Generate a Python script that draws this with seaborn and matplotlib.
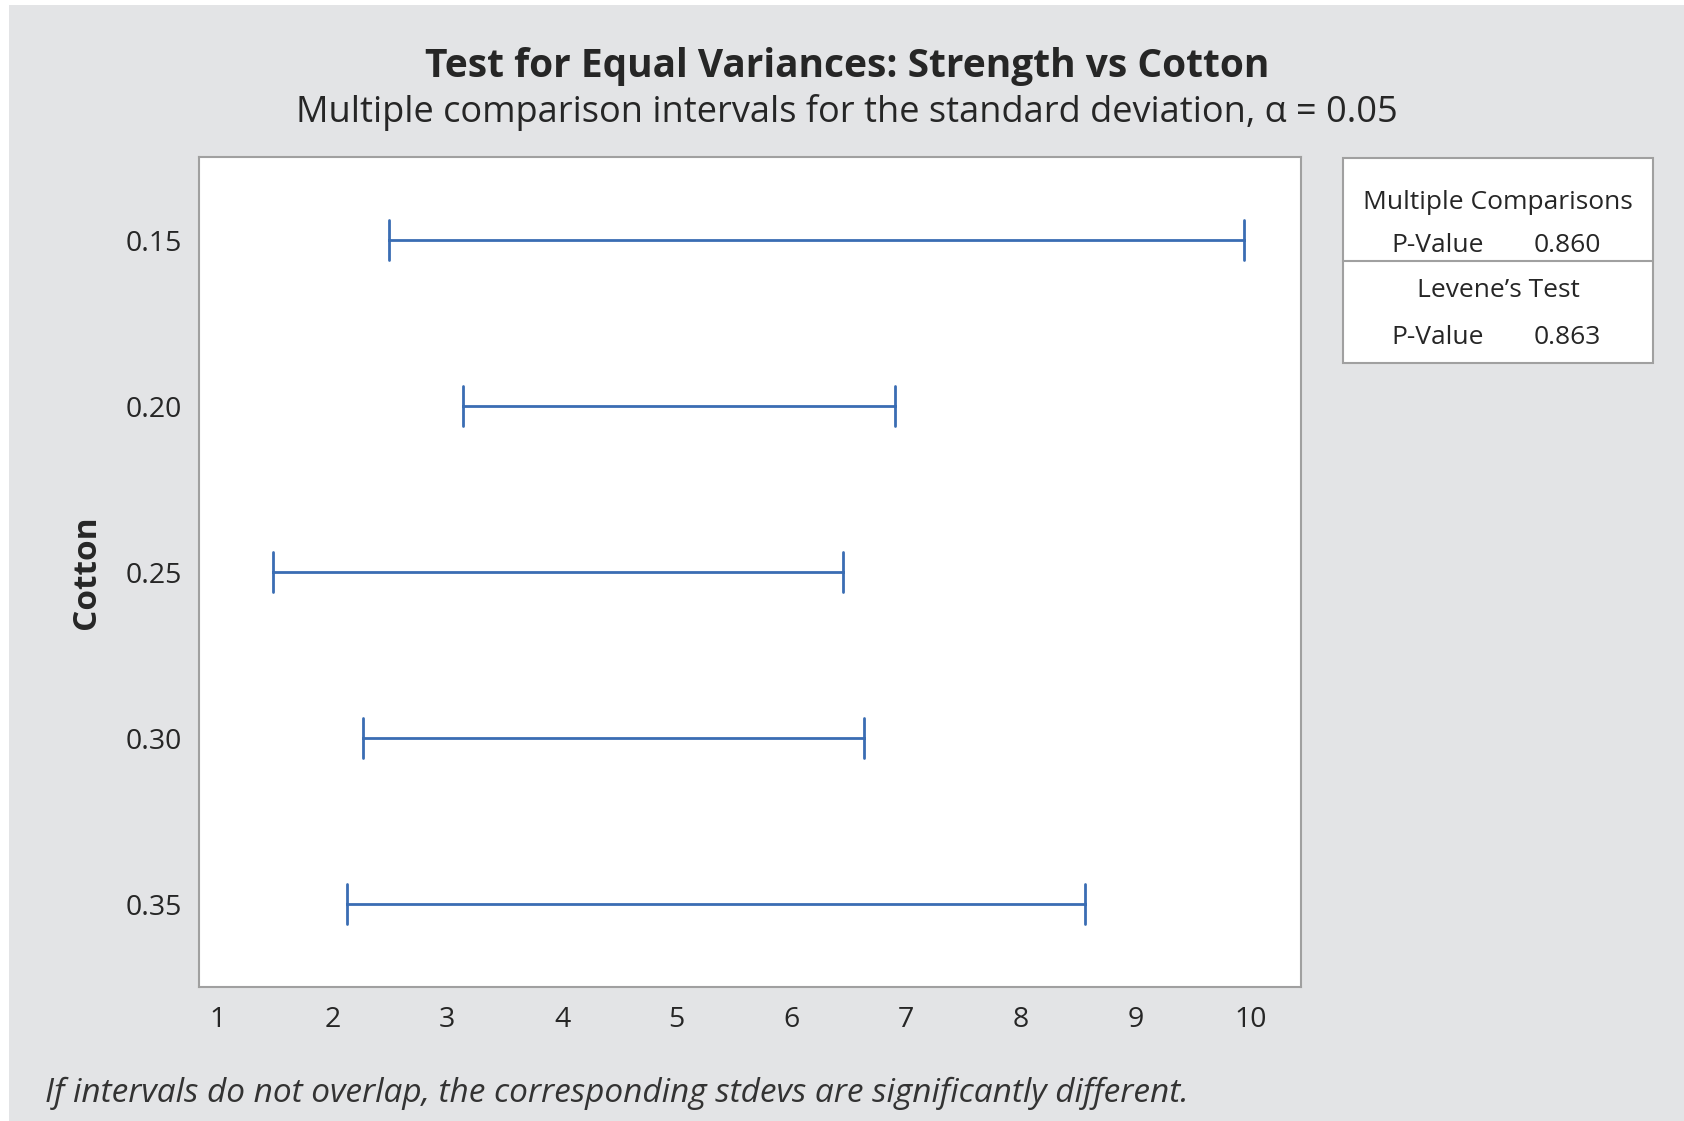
import numpy as np
import pandas as pd
import seaborn as sns
import matplotlib.pyplot as plt
from matplotlib.patches import Rectangle

# interval ends for the stdev of Strength, per Cotton level
cotton = ['0.15', '0.20', '0.25', '0.30', '0.35']
lower = [2.49, 3.14, 1.48, 2.27, 2.13]
upper = [9.94, 6.90, 6.45, 6.63, 8.56]
x_ticks = [1, 2, 3, 4, 5, 6, 7, 8, 9, 10]

mc_pvalue = '0.860'
levene_pvalue = '0.863'

# long table: two rows per level, errorbar spans min..max
df = pd.DataFrame({
    'Cotton': cotton + cotton,
    'StDev': lower + upper,
})

sns.set_style('white')
plt.rcParams['font.family'] = ['Open Sans', 'DejaVu Sans']

bg = '#e3e4e6'
blue = '#3a6db3'
grey = '#a0a0a0'
txt = '#262626'

fig = plt.figure(figsize=(16.84, 11.21), dpi=100, facecolor='white')
fig.add_artist(Rectangle((9 / 1684, 0), 1, 1 - 5 / 1121, transform=fig.transFigure,
                         facecolor=bg, edgecolor='none', zorder=-10))

ax = fig.add_axes([0.1182, 0.1195, 0.6544, 0.7404])
ax.set_facecolor('white')

sns.pointplot(data=df, x='StDev', y='Cotton', orient='h', order=cotton,
              estimator='mean', errorbar=lambda v: (v.min(), v.max()),
              capsize=0.24, color=blue, linestyle='none', markersize=0,
              err_kws={'linewidth': 2.0}, ax=ax)

ax.set_xlim(0.837, 10.44)
ax.set_xticks(x_ticks)
ax.set_xticklabels([str(t) for t in x_ticks])
ax.set_xlabel('')
ax.set_ylabel('Cotton', fontsize=24, fontweight='bold', color=txt)
ax.yaxis.set_label_coords(-0.087, 0.5)

for s in ax.spines.values():
    s.set_color(grey)
    s.set_linewidth(1.5)
ax.tick_params(axis='both', colors=grey, labelcolor=txt, labelsize=20.5,
               length=8, width=1.2, direction='out')
ax.tick_params(axis='x', pad=6)
ax.tick_params(axis='y', pad=4)

fig.text(0.503, 0.941, 'Test for Equal Variances: Strength vs Cotton',
         ha='center', va='center', fontsize=28, fontweight='bold', color=txt)
fig.text(0.503, 0.900, 'Multiple comparison intervals for the standard deviation, \u03b1 = 0.05',
         ha='center', va='center', fontsize=26, color=txt)
fig.text(45 / 1684, 1 - 1093 / 1121,
         'If intervals do not overlap, the corresponding stdevs are significantly different.',
         ha='left', va='center', fontsize=24, style='italic', color='#333333')

# p-value box on the right
bx0, bx1 = 1343 / 1684, 1653 / 1684
by_top, by_bot, by_mid = 1 - 158 / 1121, 1 - 363 / 1121, 1 - 261 / 1121
fig.add_artist(Rectangle((bx0, by_bot), bx1 - bx0, by_top - by_bot, transform=fig.transFigure,
                         facecolor='white', edgecolor=grey, linewidth=1.5))
fig.add_artist(plt.Line2D([bx0, bx1], [by_mid, by_mid], transform=fig.transFigure,
                          color=grey, linewidth=1.5))
cx = (bx0 + bx1) / 2
fs = 19
fig.text(cx, 1 - 203 / 1121, 'Multiple Comparisons', ha='center', va='center',
         fontsize=fs, color=txt)
fig.text(1438 / 1684, 1 - 245 / 1121, 'P-Value', ha='center', va='center', fontsize=fs, color=txt)
fig.text(1567 / 1684, 1 - 245 / 1121, mc_pvalue, ha='center', va='center', fontsize=fs, color=txt)
fig.text(cx, 1 - 290 / 1121, 'Levene\u2019s Test', ha='center', va='center',
         fontsize=fs, color=txt)
fig.text(1438 / 1684, 1 - 337 / 1121, 'P-Value', ha='center', va='center', fontsize=fs, color=txt)
fig.text(1567 / 1684, 1 - 337 / 1121, levene_pvalue, ha='center', va='center', fontsize=fs, color=txt)

fig.savefig('out.png', dpi=100, facecolor='white')
